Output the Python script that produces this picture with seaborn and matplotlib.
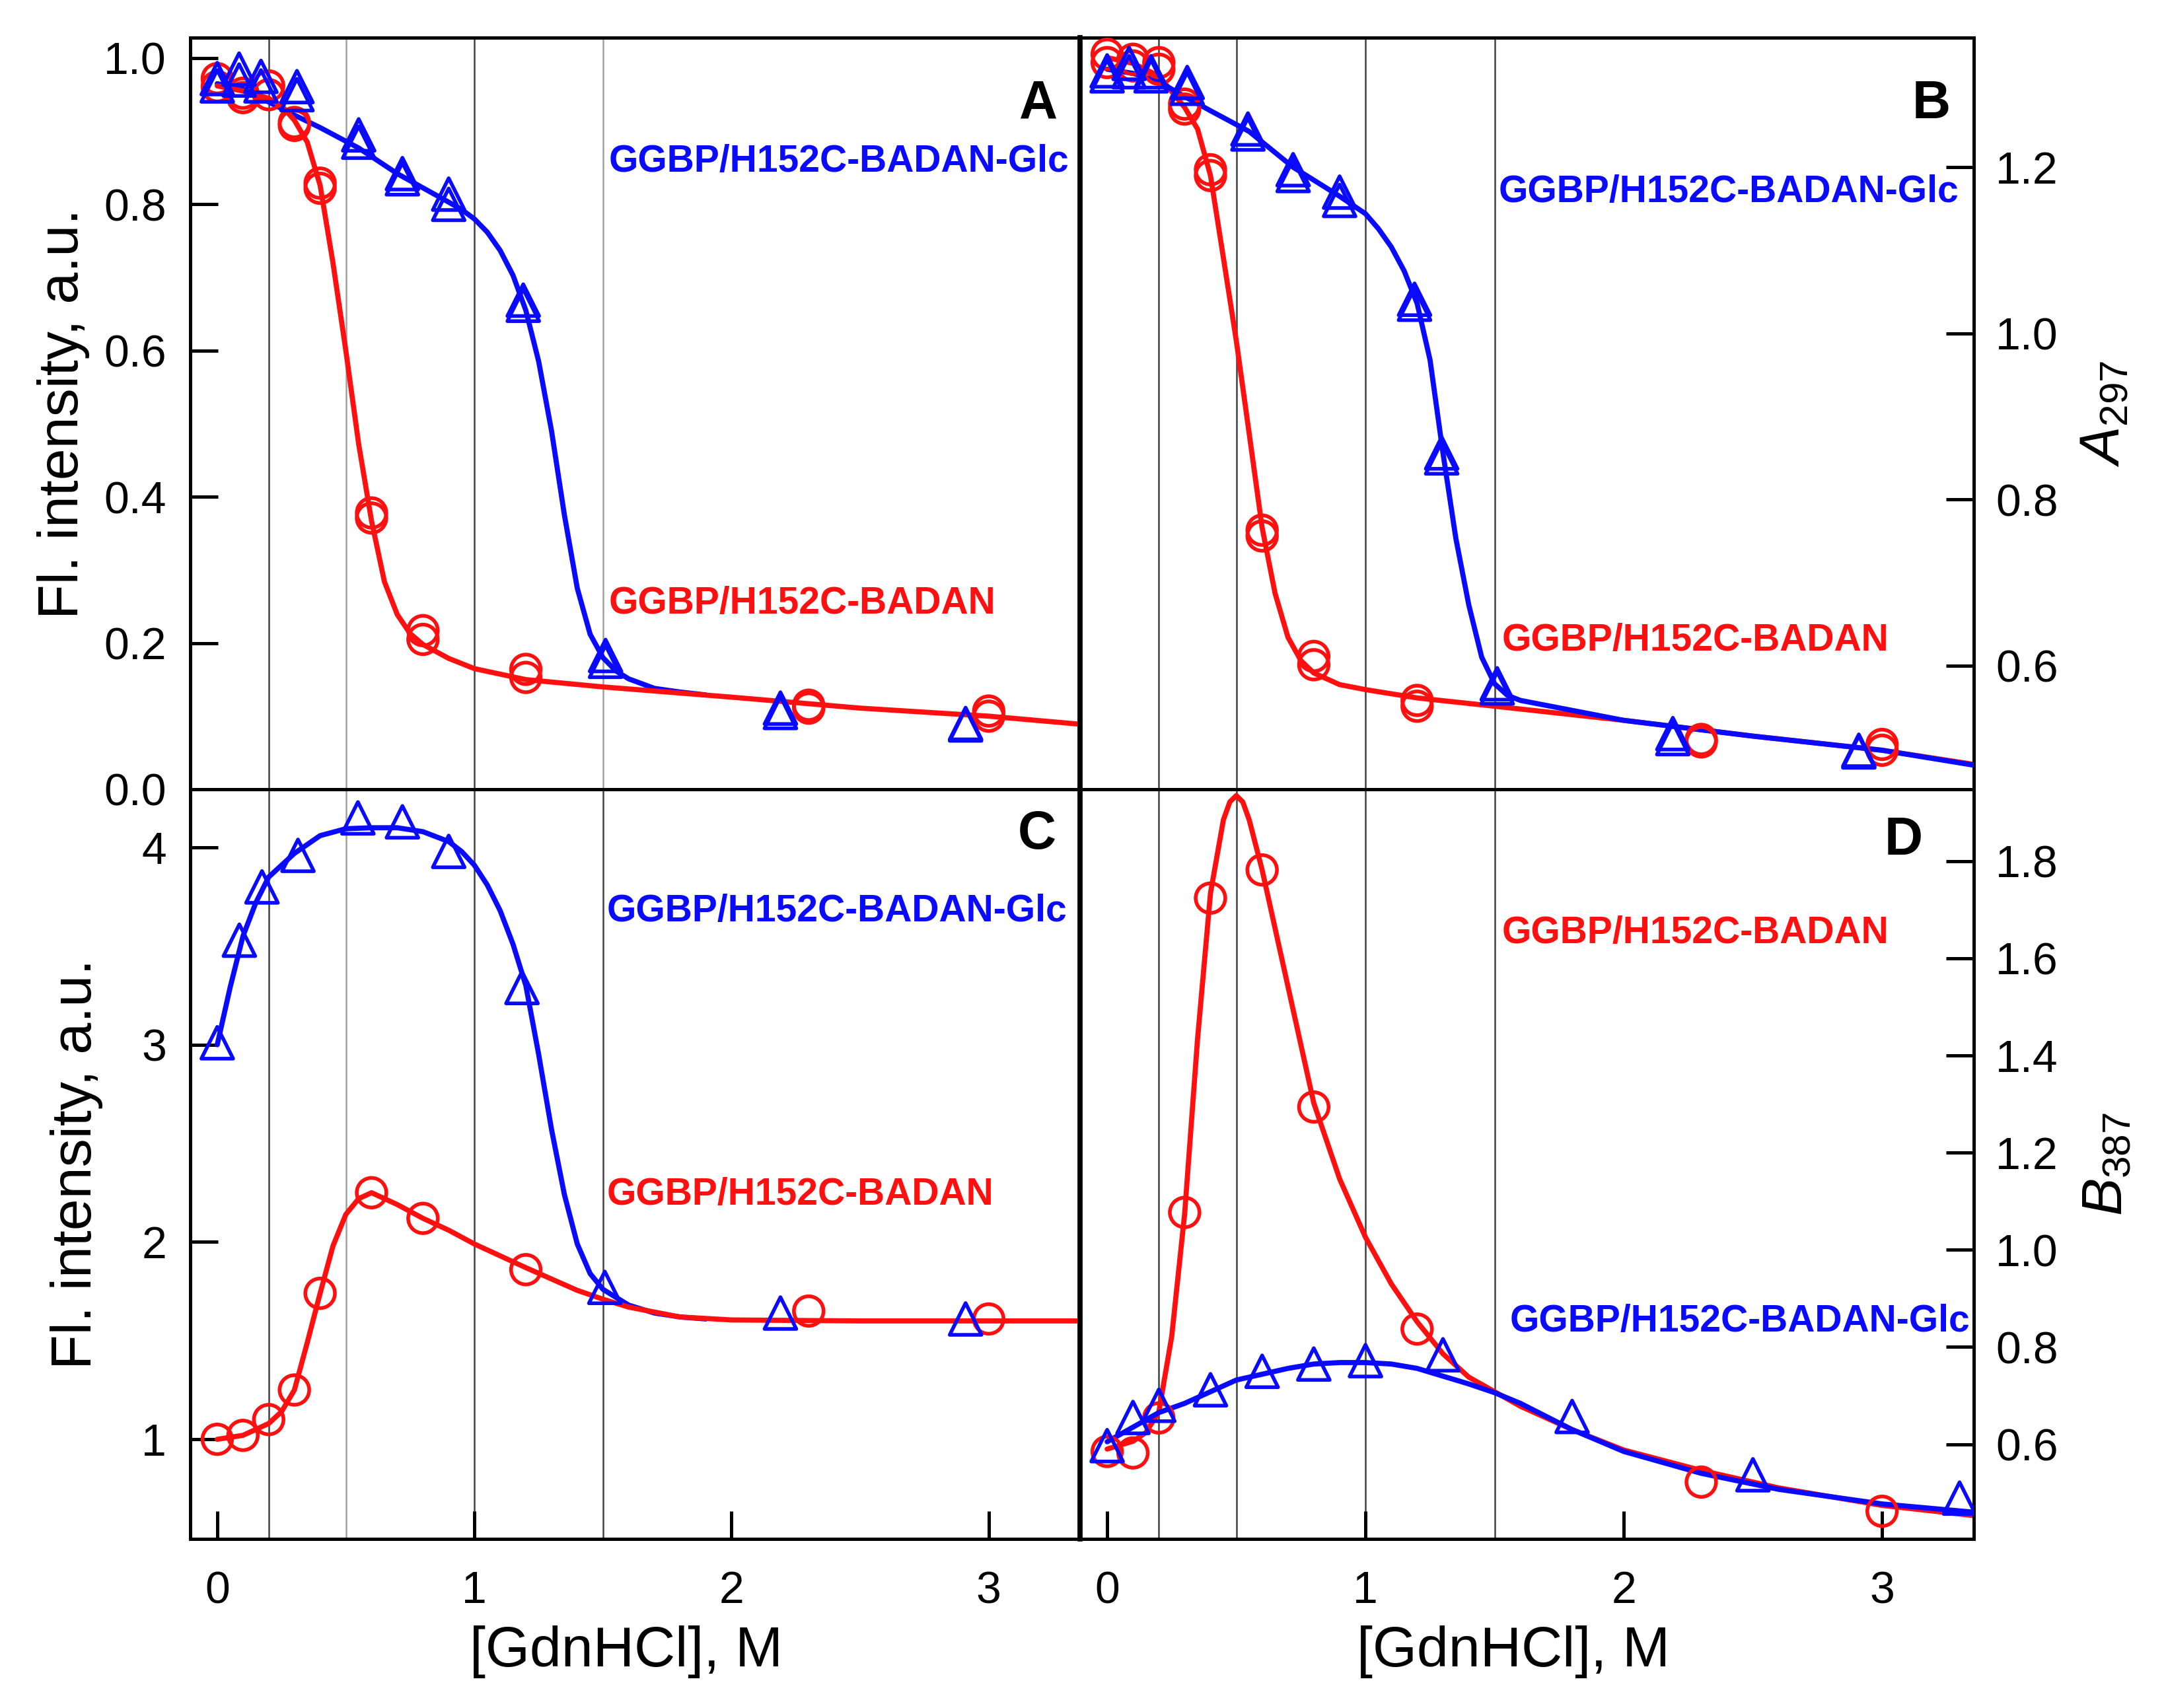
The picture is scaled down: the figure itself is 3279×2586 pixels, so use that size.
import matplotlib
matplotlib.use('Agg')
import matplotlib.pyplot as plt
import seaborn as sns

# ---------------- data ----------------
# GdnHCl concentrations (M) of the measured points
gdn_circ = [0, 0.1, 0.2, 0.3, 0.4, 0.6, 0.8, 1.2, 2.3, 3.0]
gdn_tri_a = [0, 0.085, 0.17, 0.31, 0.55, 0.72, 0.9, 1.19, 1.51, 2.19, 2.91]
gdn_tri_b = [0, 0.085, 0.17, 0.31, 0.545, 0.72, 0.9, 1.19, 1.295, 1.51, 2.19, 2.91]
gdn_tri_c = [0, 0.086, 0.174, 0.314, 0.547, 0.72, 0.9, 1.185, 1.507, 2.19, 2.91]
gdn_tri_d = [0, 0.1, 0.2, 0.4, 0.6, 0.8, 1.0, 1.3, 1.8, 2.5, 3.3]

# panel A: fluorescence intensity, two replicate series each
a_badan_1 = [0.972, 0.952, 0.962, 0.912, 0.829, 0.378, 0.217, 0.164, 0.115, 0.107]
a_badan_2 = [0.961, 0.946, 0.950, 0.908, 0.822, 0.371, 0.205, 0.153, 0.111, 0.100]
a_glc_1 = [0.972, 0.985, 0.975, 0.961, 0.895, 0.842, 0.814, 0.669, 0.183, 0.111, 0.090]
a_glc_2 = [0.962, 0.970, 0.962, 0.950, 0.885, 0.835, 0.800, 0.662, 0.175, 0.105, 0.088]

# panel B: A297
b_badan_1 = [1.336, 1.330, 1.326, 1.276, 1.197, 0.763, 0.611, 0.558, 0.511, 0.505]
b_badan_2 = [1.326, 1.322, 1.318, 1.270, 1.190, 0.756, 0.601, 0.551, 0.508, 0.498]
b_glc_1 = [1.316, 1.325, 1.315, 1.302, 1.246, 1.197, 1.170, 1.041, 0.856, 0.578, 0.518, 0.498]
b_glc_2 = [1.310, 1.315, 1.310, 1.295, 1.240, 1.190, 1.160, 1.035, 0.850, 0.573, 0.512, 0.496]

# panel C: fluorescence intensity
c_badan = [1.00, 1.02, 1.10, 1.25, 1.74, 2.25, 2.12, 1.86, 1.65, 1.61]
c_glc = [3.01, 3.53, 3.80, 3.96, 4.15, 4.13, 3.98, 3.29, 1.77, 1.64, 1.61]

# panel D: B387
d_badan = [0.585, 0.582, 0.654, 1.077, 1.724, 1.782, 1.294, 0.837, 0.522, 0.462]
d_glc = [0.597, 0.655, 0.680, 0.712, 0.750, 0.765, 0.772, 0.784, 0.657, 0.537, 0.489]

# fitted curves
a_fit_badan_x = [0, 0.1, 0.2, 0.25, 0.3, 0.35, 0.4, 0.45, 0.5, 0.55, 0.6, 0.65, 0.7, 0.75,
                 0.8, 0.9, 1.0, 1.2, 1.5, 2.0, 2.5, 3.0, 3.355]
a_fit_badan_y = [0.962, 0.955, 0.945, 0.935, 0.915, 0.885, 0.826, 0.72, 0.60, 0.472, 0.367,
                 0.284, 0.239, 0.213, 0.198, 0.179, 0.165, 0.150, 0.140, 0.126, 0.111, 0.100, 0.089]
a_fit_glc_x = [0, 0.1, 0.2, 0.3, 0.4, 0.55, 0.7, 0.9, 0.95, 1.0, 1.05, 1.1, 1.15, 1.2, 1.25,
               1.3, 1.35, 1.4, 1.45, 1.5, 1.55, 1.6, 1.7, 1.8, 1.9]
a_fit_glc_y = [0.965, 0.958, 0.940, 0.922, 0.905, 0.877, 0.842, 0.803, 0.793, 0.780, 0.762,
               0.737, 0.703, 0.655, 0.585, 0.490, 0.375, 0.275, 0.212, 0.180, 0.162, 0.151,
               0.138, 0.133, 0.129]

b_fit_badan_x = [0, 0.1, 0.2, 0.3, 0.35, 0.4, 0.45, 0.5, 0.55, 0.6, 0.65, 0.7, 0.75, 0.8, 0.9,
                 1.0, 1.2, 1.5, 2.0, 2.5, 3.0, 3.355]
b_fit_badan_y = [1.332, 1.325, 1.310, 1.272, 1.246, 1.190, 1.091, 0.991, 0.879, 0.766, 0.687,
                 0.634, 0.606, 0.591, 0.577, 0.571, 0.561, 0.551, 0.534, 0.515, 0.498, 0.481]
b_fit_glc_x = [0, 0.1, 0.2, 0.3, 0.4, 0.55, 0.72, 0.9, 1.0, 1.05, 1.1, 1.15, 1.2, 1.25, 1.3,
               1.35, 1.4, 1.45, 1.5, 1.55, 1.6, 2.0, 2.5, 3.0, 3.355]
b_fit_glc_y = [1.318, 1.313, 1.303, 1.285, 1.268, 1.243, 1.200, 1.165, 1.144, 1.126, 1.104,
               1.075, 1.036, 0.968, 0.856, 0.753, 0.673, 0.610, 0.578, 0.564, 0.558, 0.534,
               0.515, 0.498, 0.480]

c_fit_badan_x = [0, 0.1, 0.2, 0.25, 0.3, 0.35, 0.4, 0.45, 0.5, 0.55, 0.6, 0.7, 0.8, 0.9, 1.0,
                 1.2, 1.4, 1.5, 1.6, 1.8, 2.0, 2.5, 3.0, 3.355]
c_fit_badan_y = [1.00, 1.02, 1.08, 1.14, 1.25, 1.49, 1.74, 1.98, 2.14, 2.22, 2.25, 2.19, 2.12,
                 2.06, 1.99, 1.87, 1.755, 1.71, 1.67, 1.62, 1.605, 1.60, 1.60, 1.60]
c_fit_glc_x = [0, 0.05, 0.1, 0.15, 0.2, 0.3, 0.4, 0.5, 0.6, 0.7, 0.8, 0.9, 0.95, 1.0, 1.05,
               1.1, 1.15, 1.2, 1.25, 1.3, 1.35, 1.4, 1.45, 1.5, 1.6, 1.7, 1.8, 1.9]
c_fit_glc_y = [3.00, 3.29, 3.55, 3.72, 3.85, 3.97, 4.06, 4.095, 4.10, 4.10, 4.08, 4.03, 3.98,
               3.91, 3.81, 3.68, 3.51, 3.30, 2.95, 2.57, 2.24, 1.99, 1.84, 1.76, 1.68, 1.64,
               1.62, 1.61]

d_fit_badan_x = [0, 0.1, 0.15, 0.2, 0.25, 0.3, 0.35, 0.4, 0.45, 0.475, 0.5, 0.525, 0.55, 0.6,
                 0.7, 0.8, 0.9, 1.0, 1.1, 1.2, 1.3, 1.4, 1.5, 1.6, 1.8, 2.0, 2.3, 2.6, 3.0, 3.355]
d_fit_badan_y = [0.590, 0.606, 0.624, 0.666, 0.822, 1.074, 1.434, 1.734, 1.885, 1.922, 1.935,
                 1.922, 1.885, 1.782, 1.542, 1.302, 1.146, 1.026, 0.930, 0.852, 0.786, 0.738,
                 0.708, 0.678, 0.630, 0.588, 0.546, 0.510, 0.474, 0.453]
d_fit_glc_x = [0, 0.1, 0.2, 0.3, 0.4, 0.5, 0.6, 0.7, 0.8, 0.9, 1.0, 1.1, 1.2, 1.3, 1.4, 1.5,
               1.6, 1.8, 2.0, 2.3, 2.6, 3.0, 3.355]
d_fit_glc_y = [0.605, 0.635, 0.665, 0.684, 0.708, 0.732, 0.744, 0.756, 0.765, 0.768, 0.768,
               0.765, 0.756, 0.740, 0.724, 0.706, 0.684, 0.630, 0.585, 0.540, 0.507, 0.477, 0.460]

guide_x = [0.2, 0.5, 1.0, 1.5]
label_badan = 'GGBP/H152C-BADAN'
label_glc = 'GGBP/H152C-BADAN-Glc'

RED = '#ff1010'
BLUE = '#0a0aff'

sns.set_theme(style='ticks', rc={'axes.edgecolor': 'black', 'axes.linewidth': 1.8,
                                 'xtick.color': 'black', 'ytick.color': 'black',
                                 'text.color': 'black', 'axes.labelcolor': 'black'})
plt.rcParams['font.family'] = ['Liberation Sans', 'DejaVu Sans']
plt.rcParams['mathtext.fontset'] = 'custom'
plt.rcParams['mathtext.rm'] = 'Liberation Sans'
plt.rcParams['mathtext.it'] = 'Liberation Sans:italic'

fig = plt.figure(figsize=(3279 / 200, 2586 / 200), dpi=200)
L, M, R = 288 / 3279, 1635 / 3279, 2988 / 3279
T, S, B = 1 - 57 / 2586, 1 - 1195 / 2586, 1 - 2330 / 2586
ax_a = fig.add_axes([L, S, M - L, T - S])
ax_b = fig.add_axes([M, S, R - M, T - S])
ax_c = fig.add_axes([L, B, M - L, S - B])
ax_d = fig.add_axes([M, B, R - M, S - B])


def curve(ax, x, y, color, z):
    sns.lineplot(x=x, y=y, ax=ax, color=color, linewidth=2.8, sort=False,
                 estimator=None, zorder=z)


def points(ax, x, y, color, marker, size, z):
    sns.scatterplot(x=x, y=y, ax=ax, marker=marker, s=size, facecolors='none',
                    edgecolor=color, linewidth=2.0, zorder=z)


for ax, light in [(ax_a, [0.5, 1.5]), (ax_b, []), (ax_c, [0.5]), (ax_d, [])]:
    for gx in guide_x:
        ax.axvline(gx, color='#a0a0a0' if gx in light else '#404040', lw=0.9, zorder=0.5)
    ax.set_xlim(-0.105, 3.355)
    ax.tick_params(direction='in', length=15, width=1.8, labelsize=24.5, pad=13,
                   labelcolor='black')
    for sp in ax.spines.values():
        sp.set_linewidth(1.8)
        sp.set_color('black')
ax_b.spines['left'].set_linewidth(2.8)
ax_d.spines['left'].set_linewidth(2.8)

# panel A
curve(ax_a, a_fit_glc_x, a_fit_glc_y, BLUE, 2)
curve(ax_a, a_fit_badan_x, a_fit_badan_y, RED, 3)
points(ax_a, gdn_circ, a_badan_1, RED, 'o', 260, 4)
points(ax_a, gdn_circ, a_badan_2, RED, 'o', 260, 4)
points(ax_a, gdn_tri_a, a_glc_1, BLUE, '^', 300, 5)
points(ax_a, gdn_tri_a, a_glc_2, BLUE, '^', 300, 5)
ax_a.set_ylim(0, 1.028)
ax_a.set_yticks([0, 0.2, 0.4, 0.6, 0.8, 1.0], ['0.0', '0.2', '0.4', '0.6', '0.8', '1.0'])
ax_a.tick_params(axis='x', bottom=False, labelbottom=False)
ax_a.set_ylabel('Fl. intensity, a.u.', fontsize=31)
ax_a.yaxis.set_label_coords(-0.113, 0.5)

# panel B
curve(ax_b, b_fit_badan_x, b_fit_badan_y, RED, 2)
curve(ax_b, b_fit_glc_x, b_fit_glc_y, BLUE, 3)
points(ax_b, gdn_circ, b_badan_1, RED, 'o', 260, 4)
points(ax_b, gdn_circ, b_badan_2, RED, 'o', 260, 4)
points(ax_b, gdn_tri_b, b_glc_1, BLUE, '^', 300, 5)
points(ax_b, gdn_tri_b, b_glc_2, BLUE, '^', 300, 5)
ax_b.set_ylim(0.451, 1.356)
ax_b.yaxis.tick_right()
ax_b.set_yticks([0.6, 0.8, 1.0, 1.2], ['0.6', '0.8', '1.0', '1.2'])
ax_b.tick_params(axis='x', bottom=False, labelbottom=False)
ax_b.tick_params(axis='y', left=False, labelleft=False, right=True, labelright=True, pad=12)
ax_b.yaxis.set_label_position('right')
ax_b.set_ylabel(r'$\mathit{A}_{\mathit{297}}$', fontsize=31, rotation=90)
ax_b.yaxis.set_label_coords(1.117, 0.5)

# panel C
curve(ax_c, c_fit_glc_x, c_fit_glc_y, BLUE, 2)
curve(ax_c, c_fit_badan_x, c_fit_badan_y, RED, 3)
points(ax_c, gdn_circ, c_badan, RED, 'o', 260, 4)
points(ax_c, gdn_tri_c, c_glc, BLUE, '^', 300, 5)
ax_c.set_ylim(0.495, 4.295)
ax_c.set_yticks([1, 2, 3, 4], ['1', '2', '3', '4'])
ax_c.set_xticks([0, 1, 2, 3], ['0', '1', '2', '3'])
ax_c.tick_params(axis='x', pad=17)
ax_c.set_ylabel('Fl. intensity, a.u.', fontsize=31)
ax_c.yaxis.set_label_coords(-0.098, 0.5)
ax_c.set_xlabel('[GdnHCl], M', fontsize=31)
ax_c.xaxis.set_label_coords(0.49, -0.115)

# panel D
curve(ax_d, d_fit_badan_x, d_fit_badan_y, RED, 2)
curve(ax_d, d_fit_glc_x, d_fit_glc_y, BLUE, 3)
points(ax_d, gdn_circ, d_badan, RED, 'o', 260, 4)
points(ax_d, gdn_tri_d, d_glc, BLUE, '^', 300, 5)
ax_d.set_ylim(0.405, 1.948)
ax_d.yaxis.tick_right()
ax_d.set_yticks([0.6, 0.8, 1.0, 1.2, 1.4, 1.6, 1.8],
                ['0.6', '0.8', '1.0', '1.2', '1.4', '1.6', '1.8'])
ax_d.set_xticks([0, 1, 2, 3], ['0', '1', '2', '3'])
ax_d.tick_params(axis='x', pad=17)
ax_d.tick_params(axis='y', left=False, labelleft=False, right=True, labelright=True, pad=12)
ax_d.yaxis.set_label_position('right')
ax_d.set_ylabel(r'$\mathit{B}_{\mathit{387}}$', fontsize=31, rotation=90)
ax_d.yaxis.set_label_coords(1.12, 0.5)
ax_d.set_xlabel('[GdnHCl], M', fontsize=31)
ax_d.xaxis.set_label_coords(0.485, -0.115)

# series labels
lab = dict(fontsize=20.5, fontweight='bold', ha='left', va='center')
ax_a.text(1.523, 0.858, label_glc, color=BLUE, **lab)
ax_a.text(1.523, 0.254, label_badan, color=RED, **lab)
ax_b.text(1.515, 1.170, label_glc, color=BLUE, **lab)
ax_b.text(1.528, 0.630, label_badan, color=RED, **lab)
ax_c.text(1.516, 3.676, label_glc, color=BLUE, **lab)
ax_c.text(1.516, 2.240, label_badan, color=RED, **lab)
ax_d.text(1.528, 1.651, label_badan, color=RED, **lab)
ax_d.text(1.559, 0.8525, label_glc, color=BLUE, **lab)

# panel letters
for ax, letter, px, py in [(ax_a, 'A', 0.975, 0.945), (ax_b, 'B', 0.974, 0.945),
                           (ax_c, 'C', 0.973, 0.973), (ax_d, 'D', 0.943, 0.965)]:
    ax.text(px, py, letter, transform=ax.transAxes, fontsize=29, fontweight='bold',
            ha='right', va='top', color='black')

for ax in (ax_a, ax_b, ax_c, ax_d):
    if ax.get_legend() is not None:
        ax.get_legend().remove()

fig.savefig('out.png', dpi=200, facecolor='white')
